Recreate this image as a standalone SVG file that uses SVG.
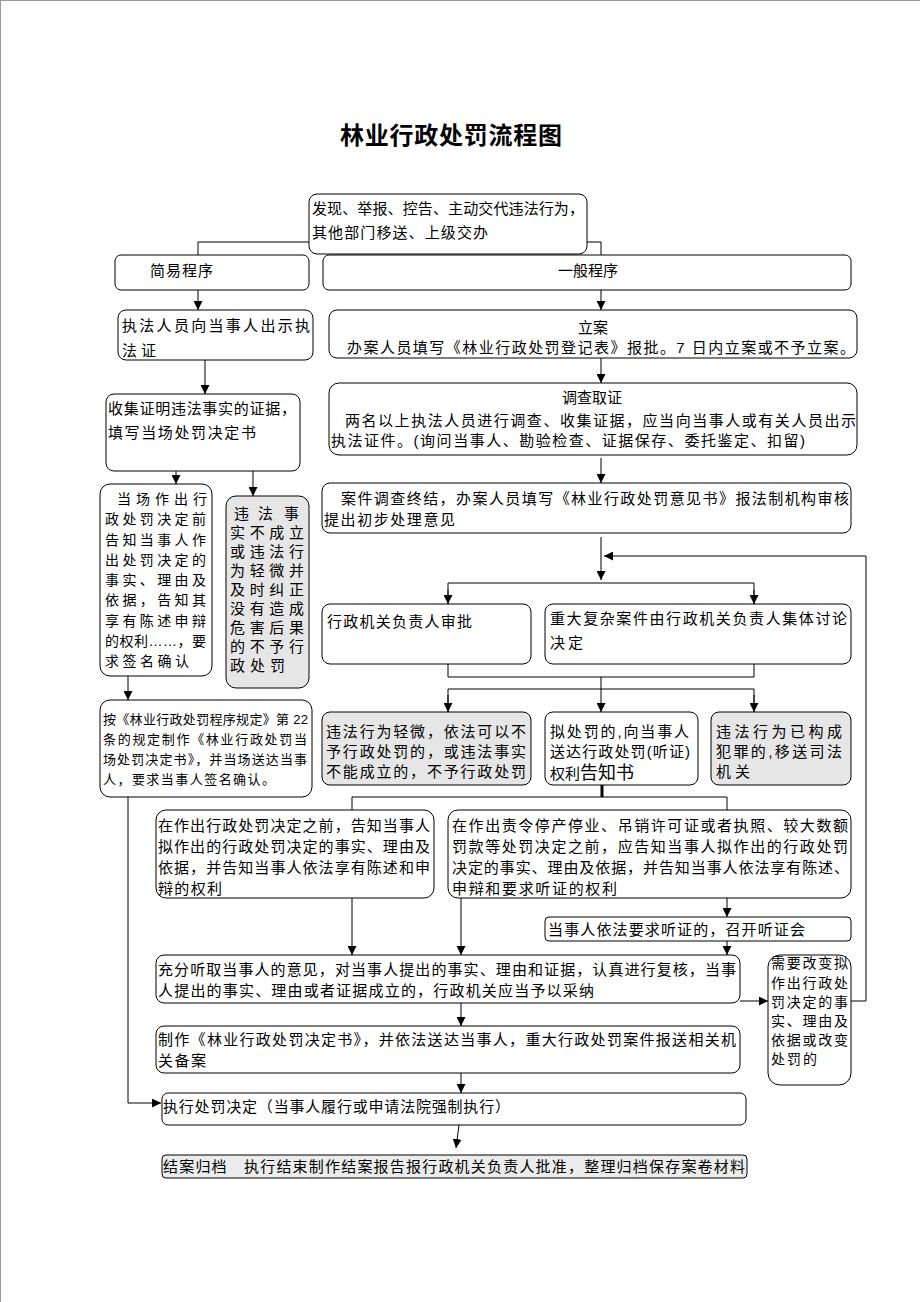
<svg xmlns="http://www.w3.org/2000/svg" width="920" height="1302" viewBox="0 0 920 1302">
<defs>
<marker id="ah" viewBox="0 0 10 10" refX="10" refY="5" markerWidth="9" markerHeight="9" markerUnits="userSpaceOnUse" orient="auto"><path d="M0,0 L10,5 L0,10 z" fill="#000"/></marker>
<style>
.box{fill:#fff;stroke:#000;stroke-width:1}
.gray{fill:#e6e6e6}
.t{font-family:"Liberation Sans","Noto Sans CJK SC",sans-serif;font-size:15px;fill:#000}
.s{font-size:13px}
.m{font-size:14px}
.ln{fill:none;stroke:#000;stroke-width:1}
.ar{marker-end:url(#ah)}
</style>
</defs>
<rect width="920" height="1302" fill="#fff"/>
<line x1="0.5" y1="0" x2="0.5" y2="1302" stroke="#999" stroke-width="1"/>
<line x1="0" y1="0.5" x2="920" y2="0.5" stroke="#999" stroke-width="1"/>
<text x="451" y="144" text-anchor="middle" textLength="222" style="font-family:'Liberation Sans','Noto Sans CJK SC',sans-serif;font-size:24px;font-weight:bold">林业行政处罚流程图</text>

<g id="connectors">
<polyline class="ln" points="198,255 198,242 601,242 601,255"/>
<line class="ln ar" x1="198" y1="290" x2="198" y2="310"/>
<line class="ln ar" x1="601" y1="290" x2="601" y2="310"/>
<line class="ln ar" x1="205" y1="360" x2="205" y2="394"/>
<line class="ln ar" x1="601" y1="358" x2="601" y2="383"/>
<line class="ln ar" x1="176" y1="471" x2="176" y2="484"/>
<line class="ln ar" x1="253" y1="471" x2="253" y2="496"/>
<line class="ln ar" x1="601" y1="458" x2="601" y2="483"/>
<line class="ln ar" x1="601" y1="537" x2="601" y2="580"/>
<polyline class="ln" points="448,604 448,583 754,583 754,604"/>
<line class="ln ar" x1="448" y1="590" x2="448" y2="604"/>
<line class="ln ar" x1="754" y1="590" x2="754" y2="604"/>
<polyline class="ln ar" points="851,1001 866,1001 866,556 604,556"/>
<polyline class="ln" points="448,664 448,677 754,677 754,664"/>
<line class="ln ar" x1="601" y1="677" x2="601" y2="712"/>
<polyline class="ln" points="448,712 448,689 754,689 754,712"/>
<line class="ln ar" x1="448" y1="695" x2="448" y2="712"/>
<line class="ln ar" x1="754" y1="695" x2="754" y2="712"/>
<line class="ln ar" x1="128" y1="676" x2="128" y2="700"/>
<polyline class="ln ar" points="128,797 128,1103 161,1103"/>
<line x1="602" y1="785" x2="602" y2="797" stroke="#000" stroke-width="3"/>
<polyline class="ln" points="352,810 352,797 727,797 727,810"/>
<line class="ln ar" x1="352" y1="898" x2="352" y2="955"/>
<line class="ln ar" x1="461" y1="898" x2="461" y2="955"/>
<line class="ln ar" x1="727" y1="898" x2="727" y2="917"/>
<line class="ln ar" x1="727" y1="941" x2="727" y2="955"/>
<line class="ln ar" x1="740" y1="1001" x2="768" y2="1001"/>
<line class="ln ar" x1="461" y1="1003" x2="461" y2="1026"/>
<line class="ln ar" x1="461" y1="1073" x2="461" y2="1093"/>
<line class="ln ar" x1="459" y1="1125" x2="456" y2="1148"/>
</g>

<g id="n-start">
<rect class="box" x="309" y="194" width="278" height="60" rx="8"/>
<text class="t" x="312" y="214" textLength="272">发现、举报、控告、主动交代违法行为，</text>
<text class="t" x="312" y="238" textLength="176">其他部门移送、上级交办</text>
</g>
<g id="n-simple">
<rect class="box" x="115" y="255" width="194" height="35" rx="6"/>
<text class="t" x="150" y="276" textLength="63">简易程序</text>
</g>
<g id="n-general">
<rect class="box" x="323" y="255" width="528" height="35" rx="6"/>
<text class="t" x="588" y="276" text-anchor="middle">一般程序</text>
</g>
<g id="n-show">
<rect class="box" x="118" y="310" width="195" height="50" rx="8"/>
<text class="t" x="122" y="331" textLength="188">执法人员向当事人出示执</text>
<text class="t" x="122" y="356" textLength="34">法证</text>
</g>
<g id="n-register">
<rect class="box" x="329" y="310" width="528" height="48" rx="8"/>
<text class="t" x="593" y="333" text-anchor="middle">立案</text>
<text class="t" x="347" y="353" textLength="508">办案人员填写《林业行政处罚登记表》报批。7 日内立案或不予立案。</text>
</g>
<g id="n-collect">
<rect class="box" x="106" y="394" width="194" height="77" rx="8"/>
<text class="t" x="108" y="414" textLength="188">收集证明违法事实的证据，</text>
<text class="t" x="108" y="438" textLength="148">填写当场处罚决定书</text>
</g>
<g id="n-investigate">
<rect class="box" x="329" y="383" width="528" height="72" rx="10"/>
<text class="t" x="592" y="403" text-anchor="middle">调查取证</text>
<text class="t" x="345" y="426" textLength="511">两名以上执法人员进行调查、收集证据，应当向当事人或有关人员出示</text>
<text class="t" x="331" y="446" textLength="474">执法证件。(询问当事人、勘验检查、证据保存、委托鉴定、扣留)</text>
</g>
<g id="n-inform-simple">
<rect class="box" x="100" y="484" width="112" height="192" rx="10"/>
<text class="t m" x="117" y="504" textLength="90">当场作出行</text>
<text class="t m" x="105" y="524" textLength="101">政处罚决定前</text>
<text class="t m" x="105" y="545" textLength="101">告知当事人作</text>
<text class="t m" x="105" y="565" textLength="101">出处罚决定的</text>
<text class="t m" x="105" y="585" textLength="101">事实、理由及</text>
<text class="t m" x="105" y="605" textLength="101">依据，告知其</text>
<text class="t m" x="105" y="626" textLength="101">享有陈述申辩</text>
<text class="t m" x="105" y="646" textLength="101">的权利……，要</text>
<text class="t m" x="105" y="666" textLength="84">求签名确认</text>
</g>
<g id="n-noaction-simple">
<rect class="box gray" x="226" y="496" width="83" height="192" rx="10"/>
<text class="t" x="234 258 284" y="519">违法事</text>
<text class="t" x="230" y="538" textLength="74">实不成立</text>
<text class="t" x="230" y="557" textLength="74">或违法行</text>
<text class="t" x="230" y="576" textLength="74">为轻微并</text>
<text class="t" x="230" y="595" textLength="74">及时纠正</text>
<text class="t" x="230" y="614" textLength="74">没有造成</text>
<text class="t" x="230" y="633" textLength="74">危害后果</text>
<text class="t" x="230" y="652" textLength="74">的不予行</text>
<text class="t" x="230" y="671" textLength="55">政处罚</text>
</g>
<g id="n-conclude">
<rect class="box" x="322" y="483" width="529" height="50" rx="8"/>
<text class="t" x="341" y="504" textLength="508">案件调查终结，办案人员填写《林业行政处罚意见书》报法制机构审核</text>
<text class="t" x="324" y="525" textLength="131">提出初步处理意见</text>
</g>
<g id="n-approve">
<rect class="box" x="322" y="604" width="209" height="60" rx="8"/>
<text class="t" x="327" y="627" textLength="145">行政机关负责人审批</text>
</g>
<g id="n-collective">
<rect class="box" x="545" y="604" width="306" height="60" rx="8"/>
<text class="t" x="550" y="624" textLength="297">重大复杂案件由行政机关负责人集体讨论</text>
<text class="t" x="550" y="648" textLength="33">决定</text>
</g>
<g id="n-simple-decision">
<rect class="box" x="100" y="700" width="212" height="97" rx="10"/>
<text class="t s" x="103" y="724" textLength="205">按《林业行政处罚程序规定》第 22</text>
<text class="t s" x="103" y="744" textLength="204">条的规定制作《林业行政处罚当</text>
<text class="t s" x="103" y="764" textLength="204">场处罚决定书》，并当场送达当事</text>
<text class="t s" x="103" y="784" textLength="172">人，要求当事人签名确认。</text>
</g>
<g id="n-noaction">
<rect class="box gray" x="322" y="712" width="209" height="73" rx="8"/>
<text class="t" x="326" y="737" textLength="200">违法行为轻微，依法可以不</text>
<text class="t" x="326" y="757" textLength="200">予行政处罚的，或违法事实</text>
<text class="t" x="326" y="777" textLength="200">不能成立的，不予行政处罚</text>
</g>
<g id="n-notify">
<rect class="box" x="545" y="712" width="153" height="73" rx="8"/>
<text class="t" x="550" y="737" textLength="139">拟处罚的,向当事人</text>
<text class="t" x="550" y="757" textLength="140">送达行政处罚(听证)</text>
<text class="t" x="550" y="779">权利<tspan style="font-size:18px">告知书</tspan></text>
</g>
<g id="n-crime">
<rect class="box gray" x="711" y="712" width="140" height="73" rx="8"/>
<text class="t" x="716" y="737" textLength="126">违法行为已构成</text>
<text class="t" x="716" y="757" textLength="126">犯罪的,移送司法</text>
<text class="t" x="716" y="777" textLength="34">机关</text>
</g>
<g id="n-inform">
<rect class="box" x="156" y="810" width="278" height="88" rx="10"/>
<text class="t" x="158" y="831" textLength="272">在作出行政处罚决定之前，告知当事人</text>
<text class="t" x="158" y="852" textLength="272">拟作出的行政处罚决定的事实、理由及</text>
<text class="t" x="158" y="873" textLength="272">依据，并告知当事人依法享有陈述和申</text>
<text class="t" x="158" y="894" textLength="64">辩的权利</text>
</g>
<g id="n-inform-hearing">
<rect class="box" x="448" y="810" width="403" height="88" rx="10"/>
<text class="t" x="452" y="831" textLength="396">在作出责令停产停业、吊销许可证或者执照、较大数额</text>
<text class="t" x="452" y="852" textLength="396">罚款等处罚决定之前，应告知当事人拟作出的行政处罚</text>
<text class="t" x="452" y="873" textLength="397">决定的事实、理由及依据，并告知当事人依法享有陈述、</text>
<text class="t" x="452" y="894" textLength="165">申辩和要求听证的权利</text>
</g>
<g id="n-hearing">
<rect class="box" x="545" y="917" width="306" height="24" rx="4"/>
<text class="t" x="548" y="935" textLength="257">当事人依法要求听证的，召开听证会</text>
</g>
<g id="n-review">
<rect class="box" x="156" y="955" width="584" height="48" rx="8"/>
<text class="t" x="158" y="975" textLength="578">充分听取当事人的意见，对当事人提出的事实、理由和证据，认真进行复核，当事</text>
<text class="t" x="158" y="996" textLength="436">人提出的事实、理由或者证据成立的，行政机关应当予以采纳</text>
</g>
<g id="n-change">
<rect class="box" x="768" y="955" width="83" height="130" rx="12"/>
<text class="t m" x="771" y="968" textLength="77">需要改变拟</text>
<text class="t m" x="771" y="988" textLength="77">作出行政处</text>
<text class="t m" x="771" y="1007" textLength="77">罚决定的事</text>
<text class="t m" x="771" y="1026" textLength="77">实、理由及</text>
<text class="t m" x="771" y="1045" textLength="77">依据或改变</text>
<text class="t m" x="771" y="1064" textLength="46">处罚的</text>
</g>
<g id="n-decision">
<rect class="box" x="156" y="1026" width="584" height="47" rx="8"/>
<text class="t" x="158" y="1045" textLength="578">制作《林业行政处罚决定书》，并依法送达当事人，重大行政处罚案件报送相关机</text>
<text class="t" x="158" y="1066" textLength="48">关备案</text>
</g>
<g id="n-execute">
<rect class="box" x="162" y="1093" width="584" height="32" rx="6"/>
<text class="t" x="163" y="1112" textLength="347">执行处罚决定（当事人履行或申请法院强制执行）</text>
</g>
<g id="n-archive">
<rect class="box" x="162" y="1155" width="585" height="23" rx="4" style="fill:#ececec"/>
<text class="t" x="163" y="1172" textLength="582">结案归档　执行结束制作结案报告报行政机关负责人批准，整理归档保存案卷材料</text>
</g>
</svg>
